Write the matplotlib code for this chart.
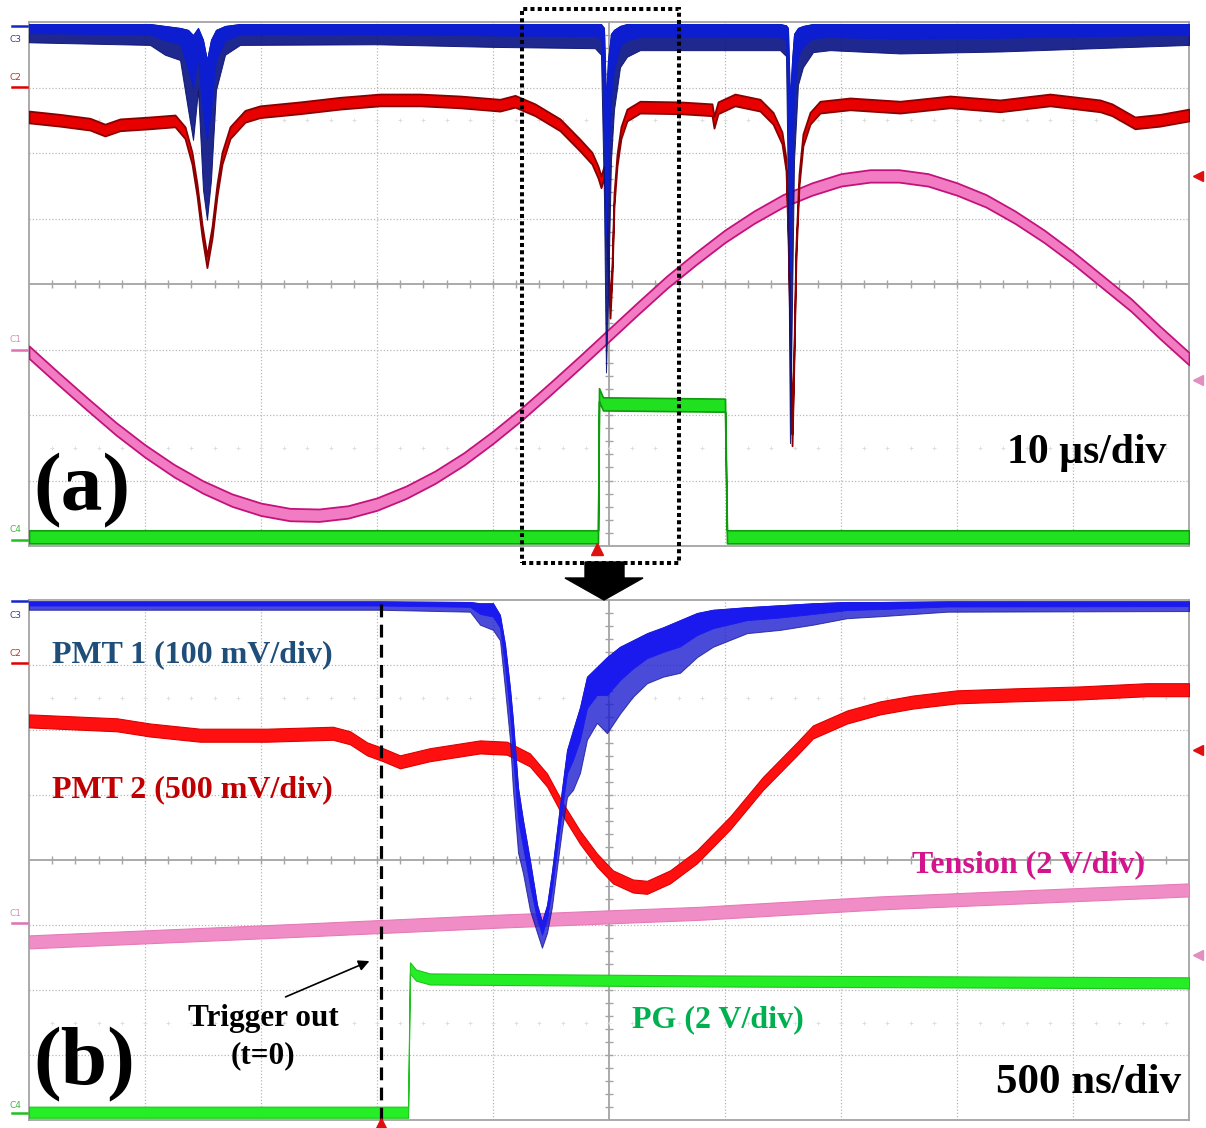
import matplotlib
matplotlib.use("Agg")
import matplotlib.pyplot as plt
from matplotlib.patches import Polygon, Rectangle, FancyArrowPatch
from matplotlib.lines import Line2D
import numpy as np

# ---------------- Panel (a): 10 us/div, screen time in us (0..100), amplitude in divisions (0..8)
a_blue_t = [0, 10.43, 11.72, 13.02, 13.71, 14.14, 14.57, 15.00, 15.34, 15.69, 16.12, 16.90, 18.19, 30.0, 40.0,
            48.79, 49.31, 49.57, 49.74, 49.91, 50.17, 50.43, 50.95, 51.55, 52.67,
            64.74, 65.26, 65.43, 65.60, 65.78, 65.95, 66.29, 66.72, 67.59, 69.05, 75.09, 83.71, 100]
a_blue_hi = [7.97, 7.97, 7.94, 7.91, 7.88, 7.80, 7.91, 7.73, 7.42, 7.73, 7.88, 7.94, 7.97, 7.97, 7.97,
             7.97, 7.97, 7.91, 6.81, 7.42, 7.82, 7.88, 7.94, 7.97, 7.97,
             7.97, 7.95, 7.91, 6.81, 7.42, 7.82, 7.91, 7.94, 7.97, 7.97, 7.97, 7.97, 7.97]
a_blue_lo = [7.69, 7.65, 7.50, 7.42, 6.66, 6.20, 6.96, 5.44, 4.98, 5.59, 6.96, 7.50, 7.65, 7.66, 7.62,
             7.60, 7.50, 5.28, 2.65, 3.76, 5.89, 6.66, 7.31, 7.47, 7.57,
             7.57, 7.48, 5.28, 1.57, 3.76, 5.89, 7.04, 7.31, 7.54, 7.57, 7.52, 7.55, 7.65]

a_red_t = [0.00, 2.67, 5.26, 6.55, 7.84, 10.43, 12.59, 13.45, 14.05, 14.48, 14.91, 15.34, 15.78, 16.21, 16.64,
           17.33, 18.62, 19.91, 23.36, 26.81, 30.26, 33.71, 37.16, 40.60, 41.90, 43.62, 45.78, 47.50, 48.53,
           49.05, 49.31, 49.57, 49.74, 49.91, 50.09, 50.26, 50.43, 50.69, 51.03, 51.55, 52.67, 56.12, 58.88,
           59.05, 59.40, 60.86, 63.02, 64.14, 64.91, 65.26, 65.43, 65.60, 65.78, 65.95, 66.12, 66.38, 66.72,
           67.33, 68.19, 70.78, 75.09, 79.40, 83.71, 88.02, 92.33, 93.36, 95.34, 97.50, 100.0]
a_red_v = [6.55, 6.50, 6.44, 6.35, 6.43, 6.46, 6.49, 6.31, 5.92, 5.44, 4.82, 4.34, 4.79, 5.44, 5.92,
           6.31, 6.56, 6.63, 6.69, 6.76, 6.81, 6.81, 6.78, 6.73, 6.79, 6.66, 6.43, 6.12, 5.92,
           5.71, 5.56, 5.71, 5.28, 4.37, 3.57, 4.21, 5.28, 5.89, 6.31, 6.58, 6.70, 6.69, 6.66,
           6.47, 6.69, 6.81, 6.73, 6.53, 6.23, 5.82, 4.82, 3.30, 1.62, 2.99, 4.52, 5.59, 6.20,
           6.53, 6.70, 6.75, 6.70, 6.78, 6.72, 6.81, 6.72, 6.66, 6.46, 6.50, 6.58]

a_pink_t = [0, 2.5, 5, 7.5, 10, 12.5, 15, 17.5, 20, 22.5, 25, 27.5, 30, 32.5, 35, 37.5, 40, 42.5, 45, 47.5,
            50, 52.5, 55, 57.5, 60, 62.5, 65, 67.5, 70, 72.5, 75, 77.5, 80, 82.5, 85, 87.5, 90, 92.5,
            95, 97.5, 100]
a_pink_v = [2.96, 2.56, 2.17, 1.79, 1.45, 1.15, 0.90, 0.70, 0.56, 0.48, 0.47, 0.52, 0.64, 0.82, 1.05, 1.33,
            1.66, 2.02, 2.41, 2.81, 3.22, 3.63, 4.03, 4.39, 4.73, 5.02, 5.27, 5.45, 5.59, 5.65, 5.65,
            5.59, 5.45, 5.27, 5.02, 4.73, 4.40, 4.04, 3.68, 3.26, 2.86]

a_green_t = [0, 49.05, 49.14, 49.48, 60.00, 60.17, 100]
a_green_v = [0.14, 0.14, 2.31, 2.17, 2.15, 0.14, 0.14]

# ---------------- Panel (b): 500 ns/div, screen time in ns (0..5000), amplitude in divisions
b_blue_t = [0, 737, 1513, 1901, 1944, 2000, 2030, 2052, 2073, 2086, 2108, 2129, 2159, 2190, 2211, 2233,
            2254, 2276, 2297, 2319, 2345, 2375, 2405, 2448, 2491, 2547, 2603, 2664, 2733, 2806, 2879,
            2948, 3095, 3237, 3379, 3526, 3668, 3957, 5000]
b_blue_hi = [7.98, 7.98, 7.98, 7.97, 7.95, 7.95, 7.77, 7.31, 6.65, 6.15, 5.11, 4.62, 4.00, 3.31, 3.05, 3.31,
             3.82, 4.46, 5.08, 5.69, 6.00, 6.35, 6.82, 6.97, 7.12, 7.28, 7.38, 7.49, 7.58, 7.69, 7.80,
             7.85, 7.89, 7.92, 7.95, 7.97, 7.97, 7.98, 7.98]
b_blue_lo = [7.85, 7.85, 7.85, 7.82, 7.62, 7.54, 7.38, 6.62, 5.85, 5.08, 4.11, 3.80, 3.23, 2.88, 2.65, 2.88,
             3.28, 3.89, 4.46, 4.97, 5.08, 5.34, 5.85, 6.11, 5.95, 6.25, 6.51, 6.72, 6.82, 6.88, 7.12,
             7.28, 7.49, 7.54, 7.62, 7.72, 7.75, 7.82, 7.83]

b_red_t = [0, 379, 522, 737, 1026, 1310, 1384, 1457, 1526, 1599, 1728, 1944, 2060, 2159, 2233, 2302,
           2375, 2448, 2517, 2603, 2664, 2763, 2879, 3022, 3164, 3310, 3379, 3526, 3668, 3810, 4000,
           4241, 4530, 4819, 5000]
b_red_v = [6.14, 6.08, 6.00, 5.92, 5.92, 5.95, 5.88, 5.71, 5.62, 5.51, 5.62, 5.74, 5.72, 5.54, 5.23, 4.77,
           4.35, 4.00, 3.74, 3.60, 3.58, 3.74, 4.05, 4.57, 5.18, 5.71, 5.97, 6.20, 6.34, 6.43, 6.51,
           6.54, 6.57, 6.62, 6.62]

b_pink_t = [0, 1168, 2030, 2892, 3668, 5000]
b_pink_v = [2.74, 2.92, 3.06, 3.18, 3.34, 3.54]

b_green_t = [0, 1634, 1642, 1668, 1728, 2892, 5000]
b_green_v = [0.12, 0.12, 2.34, 2.23, 2.17, 2.14, 2.11]

a_trigger_us = 48.97
b_trigger_ns = 1517

labels_b = ["PMT 1 (100 mV/div)", "PMT 2 (500 mV/div)", "Tension (2 V/div)", "PG (2 V/div)"]

# ---------------- figure
W, H = 1206, 1128
fig = plt.figure(figsize=(W / 100, H / 100), dpi=100)
fig.patch.set_facecolor("white")


def fx(px):
    return px / W


def fy(py):
    return 1 - py / H


ax_a = fig.add_axes([fx(29), fy(546), 1160 / W, 524 / H])
ax_b = fig.add_axes([fx(29), fy(1120), 1160 / W, 520 / H])

GRID = "#b8b8b8"
AXC = "#a4a4a4"


def scope_grid(ax, xmax):
    d = xmax / 10.0
    ax.set_xlim(0, xmax)
    ax.set_ylim(0, 8)
    ax.set_xticks([])
    ax.set_yticks([])
    for s in ax.spines.values():
        s.set_color(AXC)
        s.set_linewidth(1.3)
    for i in range(1, 10):
        if i != 5:
            ax.axvline(i * d, color=GRID, lw=0.9, ls=(0, (1, 1.6)), zorder=1)
    for j in range(1, 8):
        if j != 4:
            ax.axhline(j, color=GRID, lw=0.9, ls=(0, (1, 1.6)), zorder=1)
    ax.axvline(5 * d, color=AXC, lw=1.3, zorder=1)
    ax.axhline(4, color=AXC, lw=1.3, zorder=1)
    xt = np.arange(1, 50) * d / 5
    yt = np.arange(1, 40) * 0.2
    ax.plot(xt, np.full(len(xt), 4.0), ls="", marker="|", ms=6, mew=1.0, color=AXC, zorder=1)
    ax.plot(np.full(len(yt), 5 * d), yt, ls="", marker="_", ms=6, mew=1.0, color=AXC, zorder=1)
    for yy in (1.5, 6.5):
        ax.plot(xt, np.full(len(xt), yy), ls="", marker="+", ms=3, mew=0.6, color="#dcdcdc", zorder=1)


def band(ax, t, v, h, face, edge, lw, z):
    v = np.asarray(v, dtype=float)
    ax.fill_between(t, v - h, v + h, facecolor=face, edgecolor=edge, linewidth=lw, zorder=z)


def noisy(ax, t, lo, hi, core, spikes, edge, alpha, z):
    lo = np.asarray(lo, dtype=float)
    hi = np.asarray(hi, dtype=float)
    mid = hi - 0.5 * (hi - lo)
    ax.fill_between(t, lo, hi, facecolor=spikes, edgecolor=edge, linewidth=0.7, alpha=alpha, zorder=z)
    ax.fill_between(t, mid, hi, facecolor=core, edgecolor=core, linewidth=0.6, zorder=z + 0.1)


scope_grid(ax_a, 100)
scope_grid(ax_b, 5000)

# panel (a) traces
band(ax_a, a_pink_t, a_pink_v, 0.095, "#f27cc4", "#c4127c", 1.3, 3)
band(ax_a, a_green_t, a_green_v, 0.10, "#20e020", "#0f9a0f", 1.2, 4)
band(ax_a, a_red_t, a_red_v, 0.09, "#e80000", "#8a0000", 1.3, 5)
noisy(ax_a, a_blue_t, a_blue_lo, a_blue_hi, "#0c1ed0", "#0a1584", "#0a1270", 0.92, 6)

# panel (b) traces
band(ax_b, b_pink_t, b_pink_v, 0.10, "#f08cc6", "#e67ab8", 0.8, 3)
band(ax_b, b_green_t, b_green_v, 0.085, "#26ee26", "#1cc41c", 0.8, 4)
band(ax_b, b_red_t, b_red_v, 0.10, "#ff1010", "#dd0000", 0.8, 5)
noisy(ax_b, b_blue_t, b_blue_lo, b_blue_hi, "#1a1aee", "#1818d0", "#14148c", 0.78, 6)

# trigger dashed line
ax_b.axvline(b_trigger_ns, color="black", lw=2.3, ls=(0, (4, 2.3)), zorder=8)

# ---------------- decorations
SERIF = ["Liberation Serif", "DejaVu Serif"]


def ftext(px, py, s, size, color, ha="left", va="baseline"):
    fig.text(fx(px), fy(py), s, fontsize=size, color=color, ha=ha, va=va,
             family=SERIF, fontweight="bold")


ftext(33, 510, "(a)", 60, "black")
ftext(33, 1084, "(b)", 60, "black")
ftext(1007, 463, "10 µs/div", 30, "black")
ftext(996, 1093, "500 ns/div", 31, "black")
ftext(52, 662, labels_b[0], 23, "#1f4e79")
ftext(52, 797, labels_b[1], 23, "#c00000")
ftext(912, 872, labels_b[2], 23, "#d4148c")
ftext(632, 1027, labels_b[3], 23, "#00b050")
ftext(263, 1026, "Trigger out", 22.5, "black", ha="center")
ftext(263, 1063, "(t=0)", 22.5, "black", ha="center")

fig.add_artist(FancyArrowPatch(
    (fx(283), fy(998)), (fx(372), fy(960)), transform=fig.transFigure,
    arrowstyle="-|>", mutation_scale=16, color="black", lw=1.2))

# dotted zoom rectangle
fig.add_artist(Rectangle((fx(522), fy(563)), (679 - 522) / W, (563 - 9) / H, fill=False,
                         ec="black", lw=2.9, ls=(0, (1, 0.8)), transform=fig.transFigure))
# big down arrow
arrow_px = [(585, 562), (624, 562), (624, 578), (643, 578), (604, 600), (565, 578), (585, 578)]
fig.add_artist(Polygon([(fx(x), fy(y)) for x, y in arrow_px], closed=True, fc="black", ec="black",
                       transform=fig.transFigure))

# channel labels and offset markers
chan = [
    ("C3", 40, 26, "#3c3c8c", "#1428c8"),
    ("C2", 78, 87, "#cc2a2a", "#e00000"),
    ("C1", 340, 350, "#d090b8", "#e070b0"),
    ("C4", 530, 540, "#40b840", "#20c020"),
    ("C3", 615, 601, "#3c3c8c", "#1428c8"),
    ("C2", 653, 663, "#cc2a2a", "#e00000"),
    ("C1", 913, 923, "#d090b8", "#e070b0"),
    ("C4", 1105, 1113, "#40b840", "#20c020"),
]
for name, ty, ly, tc, lc in chan:
    fig.text(fx(9), fy(ty), name, fontsize=6.5, color=tc, ha="left", va="center", family="DejaVu Sans")
    fig.add_artist(Line2D([fx(12), fx(27)], [fy(ly), fy(ly)], color=lc, lw=1.8,
                          transform=fig.transFigure))

for px, py, c in [(1198, 176, "#e01010"), (1198, 380, "#e090c0"),
                  (1198, 750, "#e01010"), (1198, 955, "#e090c0")]:
    fig.add_artist(Line2D([fx(px)], [fy(py)], marker="<", ms=7, color=c, ls="",
                          transform=fig.transFigure))

# trigger position markers
ax_a.plot([a_trigger_us], [-0.05], marker="^", ms=8, color="#e01010", clip_on=False, zorder=9)
ax_b.plot([b_trigger_ns], [-0.06], marker="^", ms=8, color="#e01010", clip_on=False, zorder=9)

fig.savefig("out.png", dpi=100, facecolor="white")
